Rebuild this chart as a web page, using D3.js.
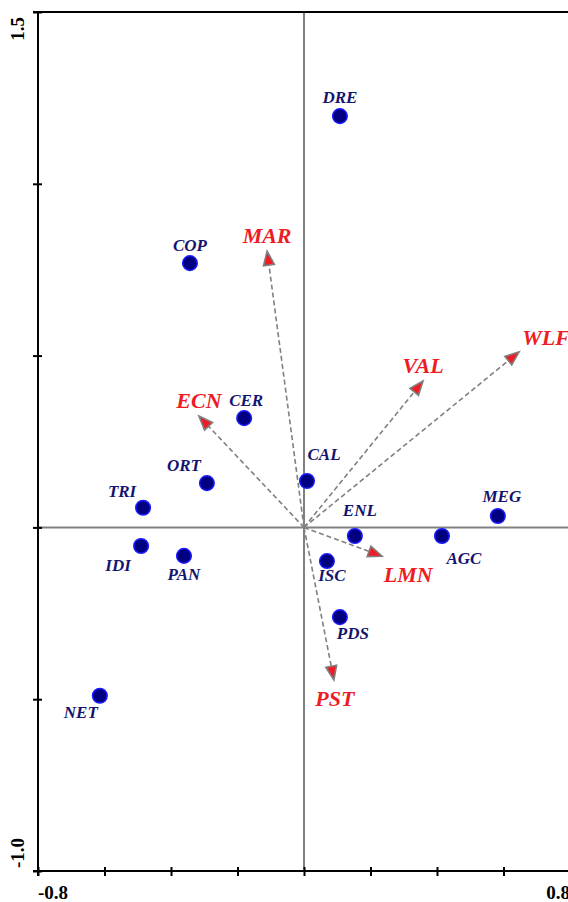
<!DOCTYPE html>
<html><head><meta charset="utf-8">
<script src="https://cdn.jsdelivr.net/npm/d3@7"></script>
<style>body{margin:0;background:#fff}svg{display:block}</style>
</head><body>
<svg id="chart" width="568" height="902"></svg>
<script>
// ---- data ----
const siteNames = ["DRE","COP","CER","CAL","ORT","TRI","MEG","ENL","AGC","IDI","PAN","ISC","PDS","NET"];
const siteX = [0.108,-0.343,-0.180,0.009,-0.292,-0.484,0.583,0.153,0.415,-0.490,-0.361,0.069,0.108,-0.614];
const siteY = [1.197,0.769,0.318,0.135,0.129,0.057,0.033,-0.025,-0.025,-0.054,-0.083,-0.098,-0.261,-0.490];
const varNames = ["MAR","ECN","VAL","WLF","LMN","PST"];
const varX = [-0.111,-0.316,0.358,0.647,0.235,0.090];
const varY = [0.804,0.324,0.426,0.511,-0.084,-0.444];
const xTickValues = [-0.8,-0.6,-0.4,-0.2,0,0.2,0.4,0.6,0.8];
const yTickValues = [-1.0,-0.5,0,0.5,1.0,1.5];
const xTickLabels = ["-0.8","0.8"];
const yTickLabels = ["-1.0","1.5"];

// ---- layout ----
const svg = d3.select("#chart");
const x = d3.scaleLinear().domain([-0.8,0.8]).range([38,570]);
const y = d3.scaleLinear().domain([-1.0,1.5]).range([871,12]);
const serif = "'Liberation Serif','DejaVu Serif',serif";

// zero lines
svg.append("line").attr("x1",x(-0.8)).attr("x2",x(0.8)).attr("y1",y(0)).attr("y2",y(0))
  .attr("stroke","#808080").attr("stroke-width",2);
svg.append("line").attr("x1",x(0)).attr("x2",x(0)).attr("y1",y(1.5)).attr("y2",y(-1.0))
  .attr("stroke","#808080").attr("stroke-width",2);

// axes
const xAxis = d3.axisBottom(x).tickValues(xTickValues).tickSize(0).tickFormat("");
const gx = svg.append("g").attr("transform",`translate(0,${y(-1.0)})`).call(xAxis);
gx.select(".domain").remove();
gx.selectAll(".tick").append("line").attr("y1",-4).attr("y2",5).attr("stroke","#000").attr("stroke-width",2);
svg.append("line").attr("x1",x(-0.8)-5).attr("x2",570).attr("y1",y(-1.0)).attr("y2",y(-1.0)).attr("stroke","#000").attr("stroke-width",2);

const yAxis = d3.axisLeft(y).tickValues(yTickValues).tickSize(0).tickFormat("");
const gy = svg.append("g").attr("transform",`translate(${x(-0.8)},0)`).call(yAxis);
gy.select(".domain").remove();
gy.selectAll(".tick").append("line").attr("x1",-5).attr("x2",4).attr("stroke","#000").attr("stroke-width",2);
svg.append("line").attr("x1",x(-0.8)).attr("x2",x(-0.8)).attr("y1",y(1.5)).attr("y2",y(-1.0)+5).attr("stroke","#000").attr("stroke-width",2);
svg.append("line").attr("x1",x(-0.8)-5).attr("x2",570).attr("y1",y(1.5)).attr("y2",y(1.5)).attr("stroke","#000").attr("stroke-width",2);

// tick labels
const tickFont = 19;
svg.append("text").text(xTickLabels[0]).attr("x",x(-0.8)).attr("y",899)
  .attr("text-anchor","start").attr("font-family",serif).attr("font-weight","bold").attr("font-size",tickFont);
svg.append("text").text(xTickLabels[1]).attr("x",x(0.8)).attr("y",899)
  .attr("text-anchor","end").attr("font-family",serif).attr("font-weight","bold").attr("font-size",tickFont);
svg.append("text").text(yTickLabels[0]).attr("transform",`translate(24,${y(-1.0)-3}) rotate(-90)`)
  .attr("text-anchor","start").attr("font-family",serif).attr("font-weight","bold").attr("font-size",tickFont);
svg.append("text").text(yTickLabels[1]).attr("transform",`translate(24,${y(1.5)+5}) rotate(-90)`)
  .attr("text-anchor","end").attr("font-family",serif).attr("font-weight","bold").attr("font-size",tickFont);

// vectors
const vars = varNames.map((n,i)=>({name:n,vx:varX[i],vy:varY[i]}));
const varLabelOffset = {MAR:[0,-8],ECN:[0,-8],VAL:[0,-8],WLF:[27,-7],LMN:[26,26],PST:[1,26]};
const gv = svg.append("g");
vars.forEach(d=>{
  const x0=x(0), y0=y(0), x1=x(d.vx), y1=y(d.vy);
  const ang=Math.atan2(y1-y0,x1-x0);
  const L=14, W=5.5;
  const bx=x1-L*Math.cos(ang), by=y1-L*Math.sin(ang);
  gv.append("line").attr("x1",x0).attr("y1",y0).attr("x2",bx).attr("y2",by)
    .attr("stroke","#808080").attr("stroke-width",1.6).attr("stroke-dasharray","5,3");
  const px=-Math.sin(ang), py=Math.cos(ang);
  const pts=[[x1,y1],[bx+W*px,by+W*py],[bx-W*px,by-W*py]];
  gv.append("path").attr("d","M"+pts.map(p=>p.join(",")).join("L")+"Z")
    .attr("fill","#ee1c25").attr("stroke","#808080").attr("stroke-width",1.6).attr("stroke-linejoin","miter");
  const o=varLabelOffset[d.name];
  gv.append("text").text(d.name).attr("x",x1+o[0]).attr("y",y1+o[1])
    .attr("text-anchor","middle").attr("font-family",serif).attr("font-weight","bold")
    .attr("font-style","italic").attr("font-size",22).attr("fill","#ee1c25");
});

// sites
const sites = siteNames.map((n,i)=>({name:n,sx:siteX[i],sy:siteY[i]}));
const siteLabelOffset = {DRE:[0,-13],COP:[0,-12],CER:[2,-12],CAL:[17,-21],ORT:[-23,-12],TRI:[-21,-11],
  MEG:[4,-14],ENL:[5,-20],AGC:[22,28],IDI:[-23,25],PAN:[0,24],ISC:[5,20],PDS:[13,22],NET:[-19,22]};
const gs = svg.append("g");
gs.selectAll("circle").data(sites).join("circle")
  .attr("cx",d=>x(d.sx)).attr("cy",d=>y(d.sy)).attr("r",7.3)
  .attr("fill","#000080").attr("stroke","#1a1aff").attr("stroke-width",1.5);
gs.selectAll("text").data(sites).join("text")
  .attr("x",d=>x(d.sx)+siteLabelOffset[d.name][0]).attr("y",d=>y(d.sy)+siteLabelOffset[d.name][1])
  .attr("text-anchor","middle").attr("font-family",serif).attr("font-weight","bold")
  .attr("font-style","italic").attr("font-size",17).attr("fill","#14146e").text(d=>d.name);
</script>
</body></html>
